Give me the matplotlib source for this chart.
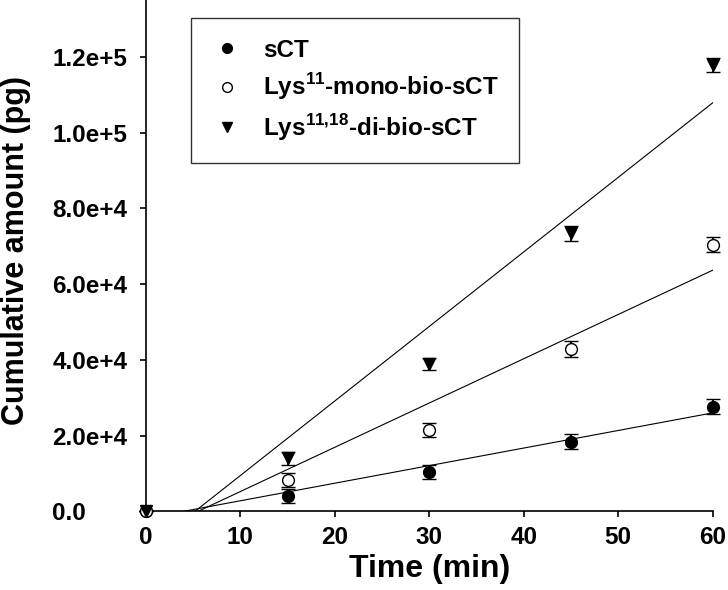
import numpy as np
import matplotlib
matplotlib.use("Agg")
import matplotlib.pyplot as plt

# data (pg)
time_min = [0, 15, 30, 45, 60]
sct = [0, 4000, 10300, 18400, 27600]
sct_err = [0, 1800, 1800, 2000, 2000]
mono = [0, 8300, 21500, 42800, 70400]
mono_err = [0, 1900, 1850, 2100, 2000]
di = [0, 14000, 38800, 73400, 117900]
di_err = [0, 1700, 1600, 2000, 1900]

yticks = [0, 20000, 40000, 60000, 80000, 100000, 120000]
ytick_labels = ['0.0', '2.0e+4', '4.0e+4', '6.0e+4', '8.0e+4', '1.0e+5', '1.2e+5']
xticks = [0, 10, 20, 30, 40, 50, 60]

plt.rcParams['font.family'] = ['Liberation Sans', 'DejaVu Sans']
plt.rcParams['font.weight'] = 'bold'

fig = plt.figure(figsize=(7.28, 5.9), dpi=100)
ax = fig.add_axes([0.2005, 0.1334, 0.7785, 0.8666])

series = [
    (sct, sct_err, 'o', 'black', 'sCT'),
    (mono, mono_err, 'o', 'white', r'Lys$^{\mathregular{11}}$-mono-bio-sCT'),
    (di, di_err, 'v', 'black', r'Lys$^{\mathregular{11{,}18}}$-di-bio-sCT'),
]

x = np.array(time_min)
xx = np.linspace(0, 60, 200)
handles = []
for y, err, mk, fc, lab in series:
    # linear fit through the points
    k, b = np.polyfit(x, np.array(y), 1)
    ax.plot(xx, k * xx + b, color='black', lw=0.8)
    eb = ax.errorbar(x, y, yerr=err, fmt=mk, color='black', mfc=fc, mec='black',
                     ms=8.5, mew=1.0, ecolor='black', elinewidth=1.3,
                     capsize=4.8, capthick=1.3, clip_on=False, zorder=3)
    for art in eb.lines[1]:
        art.set_clip_on(False)
    h, = ax.plot([], [], mk, color='black', mfc=fc, mec='black', ms=7, mew=1.0, ls='none')
    handles.append((h, lab))

ax.set_xlim(0, 60)
ax.set_ylim(0, 135000)
ax.set_xticks(xticks)
ax.set_yticks(yticks)
ax.set_yticklabels(ytick_labels)
ax.tick_params(direction='out', length=4.5, width=1.2, labelsize=17.5)
ax.tick_params(axis='x', pad=6)
# y tick labels are left aligned in the original
ax.tick_params(axis='y', pad=63)
for lbl in ax.get_yticklabels():
    lbl.set_horizontalalignment('left')
for lbl in ax.get_xticklabels() + ax.get_yticklabels():
    lbl.set_fontweight('bold')

ax.spines['top'].set_visible(False)
ax.spines['right'].set_visible(False)
ax.spines['left'].set_linewidth(1.2)
ax.spines['bottom'].set_linewidth(1.2)

ax.set_xlabel('Time (min)', fontsize=23, fontweight='bold', labelpad=4)
ax.set_ylabel('Cumulative amount (pg)', fontsize=22, fontweight='bold')
ax.yaxis.set_label_coords(-0.203, 0.51)

leg = ax.legend([h for h, _ in handles], [l for _, l in handles],
                loc='upper left', bbox_to_anchor=(0.08, 0.965),
                fontsize=17.5, frameon=True, fancybox=False, edgecolor='black',
                borderpad=0.85, labelspacing=0.4, handletextpad=0.9, handlelength=1.2,
                borderaxespad=0)
leg.get_frame().set_linewidth(1.0)
for t in leg.get_texts():
    t.set_fontweight('bold')

fig.savefig('out.png', dpi=100)
